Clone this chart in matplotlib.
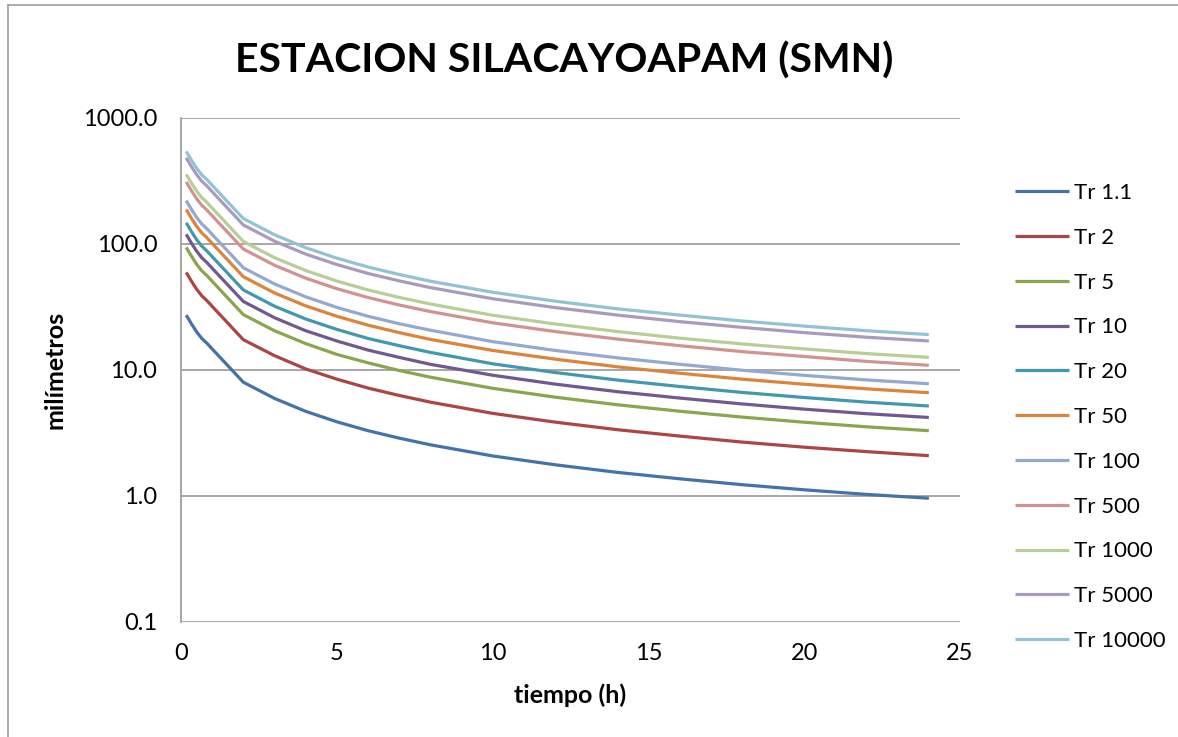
import matplotlib
matplotlib.use("Agg")
import matplotlib.pyplot as plt
from matplotlib.lines import Line2D
from matplotlib.ticker import FixedLocator, FuncFormatter

plt.rcParams["font.family"] = ["Lato", "DejaVu Sans"]

# duracion (h)
tiempo = [0.167, 0.333, 0.5, 0.667, 0.833, 1, 2, 3, 4, 5, 6, 7, 8, 10, 12, 14, 16, 18, 20, 22, 24]

tr_1_1 = [27.3, 23.3, 20.1, 17.8, 16.3, 14.7, 8.0, 5.95, 4.7, 3.88, 3.3, 2.88, 2.55, 2.08, 1.77, 1.54, 1.37, 1.23, 1.12, 1.03, 0.96]
tr_2 = [59.5, 50.8, 43.8, 38.8, 35.5, 32.0, 17.4, 13.0, 10.2, 8.46, 7.19, 6.28, 5.56, 4.53, 3.86, 3.36, 2.99, 2.68, 2.44, 2.25, 2.09]
tr_5 = [93.9, 80.2, 69.1, 61.2, 56.1, 50.6, 27.5, 20.5, 16.2, 13.3, 11.4, 9.91, 8.77, 7.16, 6.09, 5.30, 4.71, 4.23, 3.85, 3.54, 3.30]
tr_10 = [119.3, 101.8, 87.8, 77.8, 71.2, 64.2, 35.0, 26.0, 20.5, 17.0, 14.4, 12.6, 11.1, 9.09, 7.73, 6.73, 5.99, 5.38, 4.89, 4.50, 4.20]
tr_20 = [147.4, 125.8, 108.5, 96.1, 88.0, 79.4, 43.2, 32.1, 25.4, 21.0, 17.8, 15.6, 13.8, 11.2, 9.56, 8.32, 7.40, 6.64, 6.05, 5.56, 5.18]
tr_50 = [187.8, 160.3, 138.3, 122.5, 112.1, 101.1, 55.0, 40.9, 32.3, 26.7, 22.7, 19.8, 17.5, 14.3, 12.2, 10.6, 9.43, 8.46, 7.71, 7.09, 6.60]
tr_100 = [221.1, 188.7, 162.8, 144.2, 132.0, 119.1, 64.8, 48.2, 38.1, 31.4, 26.7, 23.3, 20.7, 16.8, 14.3, 12.5, 11.1, 9.96, 9.07, 8.34, 7.78]
tr_500 = [311.2, 265.6, 229.1, 202.9, 185.8, 167.6, 91.2, 67.8, 53.6, 44.2, 37.6, 32.8, 29.1, 23.7, 20.2, 17.6, 15.6, 14.0, 12.8, 11.7, 10.9]
tr_1000 = [357.6, 305.2, 263.3, 233.2, 213.5, 192.6, 104.8, 77.9, 61.6, 50.8, 43.2, 37.7, 33.4, 27.2, 23.2, 20.2, 17.9, 16.1, 14.7, 13.5, 12.6]
tr_5000 = [483.2, 412.4, 355.8, 315.1, 288.5, 260.2, 141.6, 105.3, 83.2, 68.7, 58.4, 51.0, 45.1, 36.8, 31.3, 27.3, 24.2, 21.8, 19.8, 18.2, 17.0]
tr_10000 = [543.3, 463.7, 400.0, 354.2, 324.4, 292.5, 159.2, 118.4, 93.5, 77.2, 65.7, 57.3, 50.7, 41.4, 35.2, 30.6, 27.3, 24.5, 22.3, 20.5, 19.1]

series = [tr_1_1, tr_2, tr_5, tr_10, tr_20, tr_50, tr_100, tr_500, tr_1000, tr_5000, tr_10000]
labels = ["Tr 1.1", "Tr 2", "Tr 5", "Tr 10", "Tr 20", "Tr 50", "Tr 100", "Tr 500", "Tr 1000", "Tr 5000", "Tr 10000"]
colors = ["#4572A7", "#AA4643", "#89A54E", "#71588F", "#4198AF", "#DB843D",
          "#93A9CF", "#D19392", "#B9CD96", "#A99BBD", "#91C3D5"]

y_ticks = [0.1, 1, 10, 100, 1000]
x_ticks = [0, 5, 10, 15, 20, 25]

fig = plt.figure(figsize=(11.78, 7.37), dpi=100)
ax = fig.add_axes([181 / 1178, 1 - 622 / 737, (960 - 181) / 1178, (622 - 118) / 737])

for vals, lab, col in zip(series, labels, colors):
    ax.plot(tiempo, vals, color=col, lw=2.3, label=lab, solid_capstyle="butt")

ax.set_yscale("log")
ax.set_ylim(0.1, 1000)
ax.set_xlim(0, 25)
ax.yaxis.set_major_locator(FixedLocator(y_ticks))
ax.yaxis.set_minor_locator(FixedLocator([]))
ax.yaxis.set_major_formatter(FuncFormatter(lambda v, p: f"{v:.1f}"))
ax.set_xticks(x_ticks)

grid_col = "#A0A0A0"
ax.grid(axis="y", color=grid_col, lw=1.3)
ax.set_axisbelow(True)
for s in ["top", "right", "bottom"]:
    ax.spines[s].set_visible(False)
ax.spines["left"].set_color(grid_col)
ax.spines["left"].set_linewidth(1.3)
ax.tick_params(axis="both", length=0, labelsize=17, colors="black")
ax.tick_params(axis="y", pad=17)
ax.tick_params(axis="x", pad=15)

ax.set_xlabel("tiempo (h)", fontsize=18, fontweight="bold", labelpad=14)
ax.set_ylabel("milímetros", fontsize=18, fontweight="bold", labelpad=12)
fig.text(564 / 1178, 1 - 61 / 737, "ESTACION SILACAYOAPAM (SMN)", ha="center", va="center",
         fontsize=29.5, fontweight="bold")

fig.legend(loc="center left", bbox_to_anchor=(1015 / 1178, 1 - 417 / 737), frameon=False,
           fontsize=16, handlelength=2.45, handletextpad=0.2, labelspacing=1.115,
           borderpad=0, borderaxespad=0)

# borde del area del grafico
fig.add_artist(Line2D([8 / 1178, 8 / 1178], [0, 1 - 5 / 737], color="#A0A0A0", lw=1.2))
fig.add_artist(Line2D([8 / 1178, 1], [1 - 5 / 737, 1 - 5 / 737], color="#A0A0A0", lw=1.2))

fig.savefig("out.png", dpi=100)
